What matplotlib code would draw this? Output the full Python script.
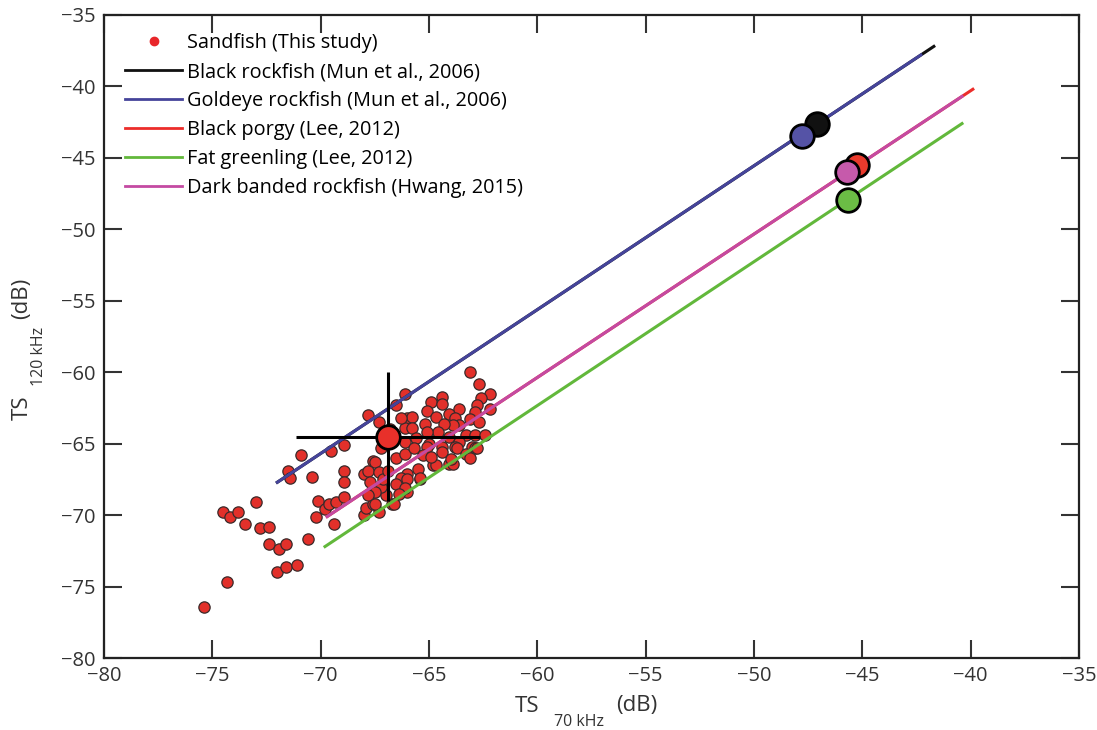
import matplotlib
matplotlib.use('Agg')
import matplotlib.pyplot as plt
from matplotlib.lines import Line2D

plt.rcParams['font.family'] = ['Open Sans', 'DejaVu Sans']

# Sandfish (This study) - TS 70 kHz vs TS 120 kHz
sand_x = [-75.4, -74.3, -72.0, -71.6, -71.1, -72.4, -71.9, -71.6, -70.6, -73.5,
          -72.8, -72.4, -74.5, -74.2, -73.8, -73.0, -71.5, -71.4, -70.9, -70.4,
          -69.5, -68.9, -68.9, -68.9, -69.4, -70.2, -70.1, -69.8, -69.6, -69.3,
          -68.9, -67.8, -67.3, -66.1, -66.5, -63.1, -62.7, -62.2, -62.6, -62.8,
          -64.4, -64.9, -65.1, -63.6, -63.0, -64.1, -64.8, -68.0, -67.6, -68.0,
          -67.9, -67.6, -67.3, -66.7, -66.0, -65.4,
          -64.4, -64.7, -66.0, -65.8, -65.2, -66.1, -65.8, -64.1, -63.8, -63.6,
          -63.9, -64.3, -62.9, -63.1, -62.7, -62.2, -63.3, -64.6, -65.1, -65.6,
          -66.1, -64.1, -63.6, -62.9, -62.4, -63.8, -64.4, -65.0, -62.9,
          -67.2, -66.5, -66.1, -65.7, -65.1, -64.4, -63.9, -64.7, -65.5, -66.0,
          -66.3, -66.0, -65.4, -66.5, -66.1, -66.4, -67.0, -67.2, -67.5, -67.8,
          -67.3, -67.7, -67.1, -67.5, -67.8, -67.5, -66.6, -63.7, -62.8,
          -66.8, -66.3, -65.3, -64.9, -63.3, -63.1, -66.9, -64.0]
sand_y = [-76.4, -74.7, -74.0, -73.6, -73.5, -72.0, -72.4, -72.0, -71.7, -70.6,
          -70.9, -70.8, -69.8, -70.1, -69.8, -69.1, -66.9, -67.4, -65.8, -67.3,
          -65.5, -65.1, -66.9, -67.7, -70.6, -70.1, -69.0, -69.6, -69.2, -69.1,
          -68.7, -63.0, -63.5, -61.5, -62.3, -60.0, -60.8, -61.5, -61.8, -62.3,
          -61.7, -62.1, -62.7, -62.6, -65.2, -66.4, -66.5, -67.1, -66.2, -70.0,
          -69.5, -69.2, -69.8, -69.2, -68.4, -67.5,
          -62.2, -63.1, -63.2, -63.1, -63.6, -63.9, -63.9, -62.9, -63.2, -63.7,
          -63.7, -63.6, -62.8, -63.3, -63.5, -62.6, -64.4, -64.2, -64.2, -64.6,
          -64.9, -64.5, -64.9, -64.4, -64.4, -65.2, -65.2, -65.0, -65.3,
          -65.3, -66.0, -65.7, -65.3, -65.2, -65.6, -66.4, -66.5, -66.8, -67.1,
          -67.4, -67.5, -67.4, -67.8, -68.1, -68.5, -68.6, -68.0, -66.3, -66.9,
          -67.0, -67.7, -67.5, -68.4, -68.6, -69.2, -69.2, -65.3, -65.3,
          -64.0, -63.2, -65.8, -65.9, -65.7, -66.0, -66.9, -66.1]

# mean and standard deviation of sandfish
mean_x, mean_y = -66.9, -64.5
sd_x, sd_y = 4.25, 4.5

# regression lines from the literature (x range and y range)
species = ['Black rockfish (Mun et al., 2006)', 'Goldeye rockfish (Mun et al., 2006)',
           'Black porgy (Lee, 2012)', 'Fat greenling (Lee, 2012)',
           'Dark banded rockfish (Hwang, 2015)']
line_x = [[-72.0, -41.7], [-72.0, -42.3], [-69.7, -39.9], [-69.8, -40.4], [-69.7, -40.4]]
line_y = [[-67.7, -37.2], [-67.7, -37.8], [-70.1, -40.2], [-72.2, -42.6], [-70.1, -40.7]]
# mean TS points of each species
pt_x = [-47.1, -47.8, -45.25, -45.65, -45.7]
pt_y = [-42.6, -43.5, -45.5, -47.95, -46.0]

line_colors = ['#111111', '#45449a', '#ec2d2a', '#62b83b', '#c44aa2']
pt_colors = ['#111111', '#5553a6', '#ea3a2c', '#6bbd45', '#c65aab']

fig = plt.figure(figsize=(10.97, 7.3), dpi=100)
ax = fig.add_axes([0.0948, 0.0986, 0.8888, 0.8809])

ax.scatter(sand_x, sand_y, s=66, facecolor='#e2302a', edgecolor='#3a2a2a',
           linewidth=0.9, zorder=2)

for i in range(len(species)):
    ax.plot(line_x[i], line_y[i], color=line_colors[i], lw=2.2, zorder=3)

ax.errorbar(mean_x, mean_y, xerr=sd_x, yerr=sd_y, fmt='none', ecolor='black',
            elinewidth=2.2, capsize=0, zorder=4)
ax.plot(mean_x, mean_y, 'o', ms=17, mfc='#e8302a', mec='black', mew=2, zorder=5)

for i in range(len(species)):
    ax.plot(pt_x[i], pt_y[i], 'o', ms=17, mfc=pt_colors[i], mec='black', mew=2,
            zorder=5)

ax.set_xlim(-80, -35)
ax.set_ylim(-80, -35)
ax.set_xticks(range(-80, -34, 5))
ax.set_yticks(range(-80, -34, 5))
ax.tick_params(direction='in', length=13, width=1.5, top=True, right=True,
               labelsize=14.5, colors='#333333', pad=6)
for sp in ax.spines.values():
    sp.set_linewidth(1.6)
    sp.set_color('#222222')

# legend
handles = [Line2D([], [], marker='o', ls='none', mfc='#e8262a', mec='#e8262a', ms=6)]
handles += [Line2D([], [], color=c, lw=2) for c in line_colors]
labels = ['Sandfish (This study)'] + species
ax.legend(handles, labels, loc='upper left', frameon=False, fontsize=14.3,
          handlelength=2.9, handletextpad=0.25, labelspacing=0.45,
          borderaxespad=0.3, bbox_to_anchor=(0.007, 0.993))

# axis labels with spaced subscripts
fig.text(527 / 1097, 1 - 706 / 730, 'TS', fontsize=16, ha='center', va='center', color='#333333')
fig.text(579 / 1097, 1 - 722 / 730, '70 kHz', fontsize=11.5, ha='center', va='center', color='#333333')
fig.text(637 / 1097, 1 - 706 / 730, '(dB)', fontsize=16, ha='center', va='center', color='#333333')
fig.text(22 / 1097, 1 - 408 / 730, 'TS', fontsize=16, ha='center', va='center', rotation=90, color='#333333')
fig.text(39 / 1097, 1 - 356 / 730, '120 kHz', fontsize=11.5, ha='center', va='center', rotation=90, color='#333333')
fig.text(22 / 1097, 1 - 298 / 730, '(dB)', fontsize=16, ha='center', va='center', rotation=90, color='#333333')

fig.savefig('out.png', dpi=100)
